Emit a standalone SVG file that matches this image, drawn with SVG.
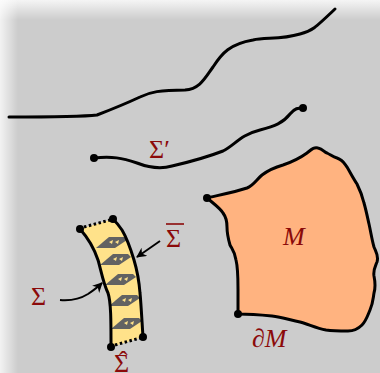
<svg xmlns="http://www.w3.org/2000/svg" width="380" height="373" viewBox="0 0 380 373">
  <defs>
    <linearGradient id="fadeTop" x1="0" y1="0" x2="0" y2="1">
      <stop offset="0" stop-color="#ffffff" stop-opacity="0.8"/>
      <stop offset="1" stop-color="#ffffff" stop-opacity="0"/>
    </linearGradient>
    <linearGradient id="fadeLeft" x1="0" y1="0" x2="1" y2="0">
      <stop offset="0" stop-color="#ffffff" stop-opacity="0.75"/>
      <stop offset="1" stop-color="#ffffff" stop-opacity="0"/>
    </linearGradient>
    <marker id="head" viewBox="0 0 10 10" refX="9" refY="5" markerWidth="5" markerHeight="5" orient="auto" markerUnits="strokeWidth">
      <path d="M0,0 L10,5 L0,10 L3,5 Z" fill="#000"/>
    </marker>
    <!-- one flux arrow across the strip -->
    <g id="flux">
      <path d="M0,11 L13,0 L28,0 L31,3 L19,11 Z" fill="#626262"/>
      <path d="M13,5 L17,3 L16,7 Z M19,5 L23,3 L22,7 Z" fill="#ffe28a"/>
    </g>
  </defs>
  <style>
    .curve { fill: none; stroke: #000; stroke-width: 3; stroke-linecap: round; stroke-linejoin: round; }
    .dot { fill: #000; }
    .lbl { font-family: "Liberation Serif", "DejaVu Serif", serif; font-size: 26px; fill: #8b0a0a; }
    .ital { font-style: italic; }
    .ptr { fill: none; stroke: #000; stroke-width: 2; marker-end: url(#head); }
    .dots { stroke: #000; stroke-width: 3; stroke-dasharray: 2.5 2.5; }
  </style>

  <!-- backdrop -->
  <rect x="0" y="0" width="380" height="373" fill="#cccccc"/>
  <rect x="0" y="0" width="380" height="20" fill="url(#fadeTop)"/>
  <rect x="0" y="0" width="18" height="373" fill="url(#fadeLeft)"/>

  <!-- open hypersurface at the top -->
  <g id="top-curve">
    <path class="curve" d="M9,117 C30,117 80,117 97,115 C110,110 125,104 140,97 C150,92 160,90 185,90 C200,89 205,78 213,67 C222,53 230,44 253,40 C265,37 280,40 300,34 C312,31 315,28 335,9"/>
  </g>

  <!-- Sigma' -->
  <g id="sigma-prime">
    <path class="curve" d="M94,158 C112,156 122,158 137,163 C150,168 162,169 172,166 C185,163 205,158 223,151 C235,145 240,135 260,130 C275,126 283,123 290,114 C295,108 298,108 303,108"/>
    <circle class="dot" cx="94" cy="158" r="4"/>
    <circle class="dot" cx="303" cy="108" r="4"/>
    <text class="lbl" x="149" y="158">Σ′</text>
  </g>

  <!-- region M with boundary -->
  <g id="region-M">
    <path d="M207,198 C215,196 235,192 247,188 C254,185 256,180 262,175 C270,169 276,167 283,165 C292,162 300,158 307,153 C312,149 314,147 318,148 C323,149 324,152 327,153 C331,155 333,157 337,158 C343,160 344,163 347,167 C350,172 353,178 357,184 C360,190 362,195 364,203 C366,210 367,215 369,224 C371,233 372,240 374,247 C376,252 379,256 377,262 C375,267 373,270 374,276 C375,281 376,286 374,293 C373,299 373,303 370,310 C367,317 366,321 362,325 C358,329 354,331 348,331 C340,331 333,331 326,330 C316,328 308,324 300,322 C290,320 282,317 272,316 C262,315 250,314 238,314 C238,305 238,296 238,289 C238,279 238,268 236,260 C235,252 232,249 230,245 C228,238 227,233 227,227 C227,222 226,217 223,213 C220,208 214,204 207,198 Z" fill="#ffb380" stroke="#000" stroke-width="3" stroke-linejoin="round"/>
    <circle class="dot" cx="207" cy="198" r="4"/>
    <circle class="dot" cx="238" cy="314" r="4"/>
    <text class="lbl ital" x="283" y="245">M</text>
    <text class="lbl ital" x="252" y="347">∂M</text>
  </g>

  <!-- thin strip between Sigma and Sigma-bar -->
  <g id="strip">
    <path d="M80,229 C88,238 94,248 98,260 C101,270 103,283 108,293 C111,302 111,320 111,347 L143,337 C142,322 141,303 140,293 C139,280 137,270 134,260 C131,250 128,240 122,230 C118,224 115,221 113,219 Z" fill="#ffe28a"/>
    <use href="#flux" x="96" y="237"/>
    <use href="#flux" x="100" y="254"/>
    <use href="#flux" x="105" y="274"/>
    <use href="#flux" x="109" y="295"/>
    <use href="#flux" x="111" y="318"/>
    <path class="curve" d="M80,229 C88,238 94,248 98,260 C101,270 103,283 108,293 C111,302 111,320 111,347"/>
    <path class="curve" d="M113,219 C115,221 118,224 122,230 C128,240 131,250 134,260 C137,270 139,280 140,293 C141,303 142,322 143,337"/>
    <line class="dots" x1="84" y1="227" x2="110" y2="220"/>
    <line class="dots" x1="115" y1="345" x2="140" y2="338"/>
    <circle class="dot" cx="80" cy="229" r="4"/>
    <circle class="dot" cx="113" cy="219" r="4"/>
    <circle class="dot" cx="111" cy="347" r="4"/>
    <circle class="dot" cx="143" cy="337" r="4"/>
    <text class="lbl" x="166" y="247">Σ</text>
    <line x1="166" y1="224" x2="184" y2="224" stroke="#8b0a0a" stroke-width="1.6"/>
    <text class="lbl" x="31" y="305">Σ</text>
    <text class="lbl" x="114" y="372">Σ</text>
    <text class="lbl" x="119" y="369" font-size="20">ˆ</text>
  </g>

  <!-- pointers to the strip edges -->
  <g id="connectors">
    <path class="ptr" d="M160,241 L137,257"/>
    <path class="ptr" d="M60,300 C72,301 80,299 88,294 C94,290 98,287 102,283"/>
  </g>
</svg>
